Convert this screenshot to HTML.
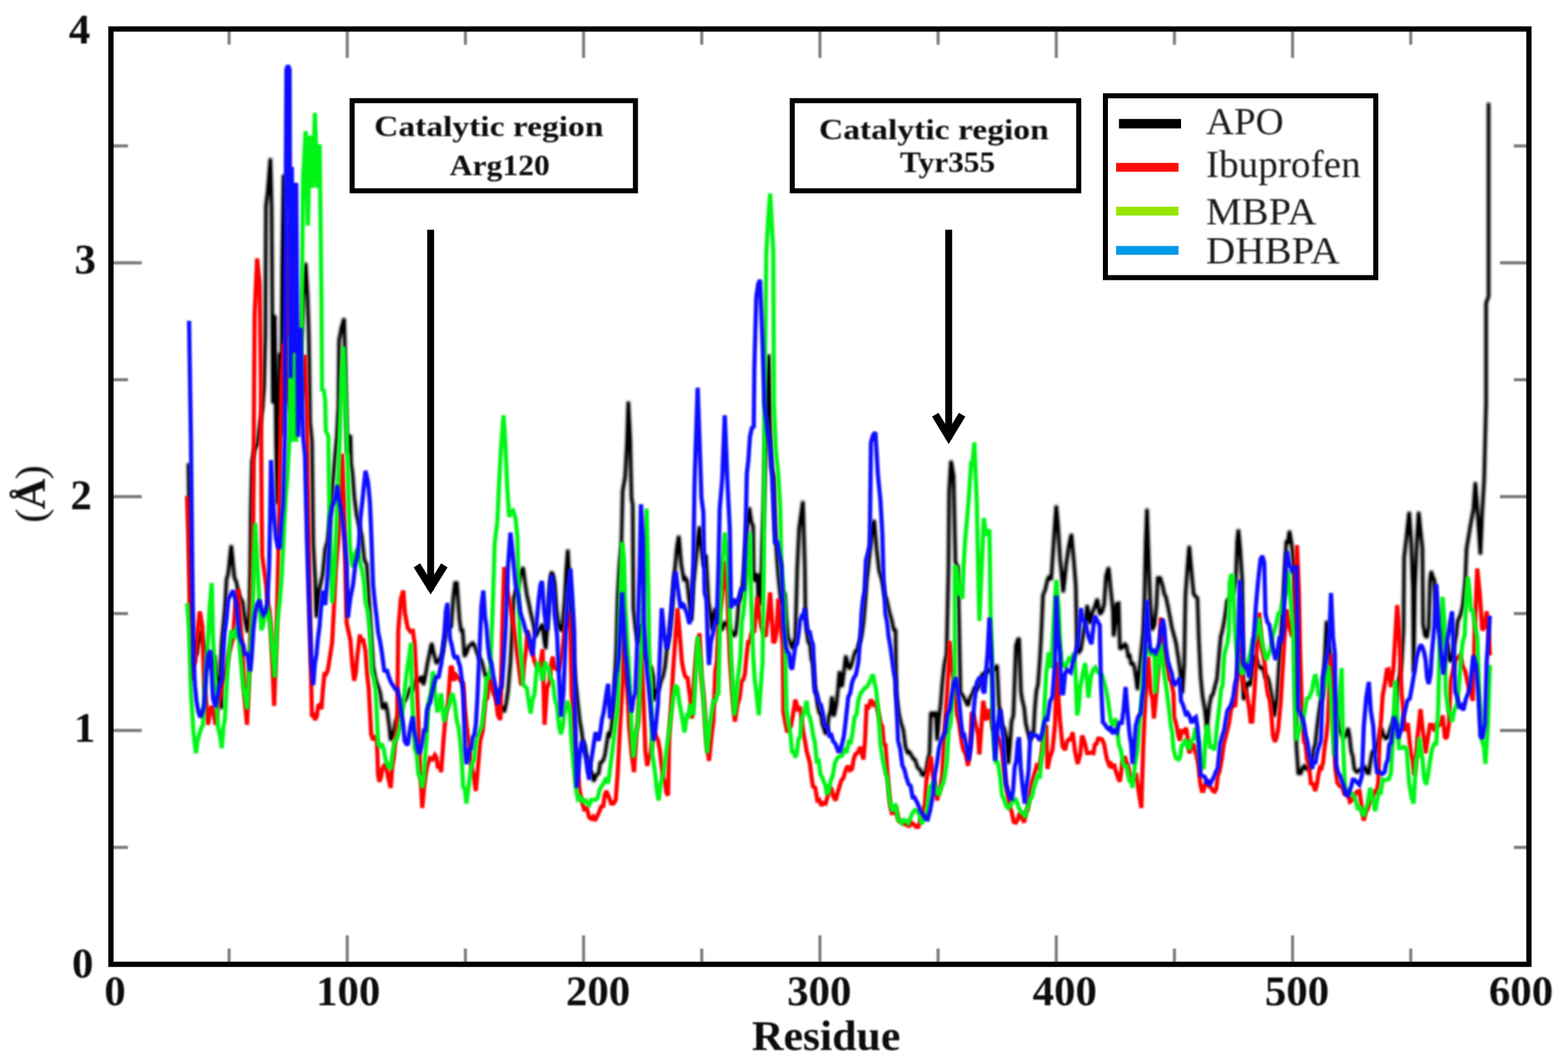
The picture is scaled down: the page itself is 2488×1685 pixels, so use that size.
<!DOCTYPE html>
<html lang="en"><head><meta charset="utf-8"><title>RMSF per residue</title>
<style>html,body{margin:0;padding:0;background:#fff}body{width:2488px;height:1685px;overflow:hidden}svg{display:block}text{font-family:"Liberation Serif","DejaVu Serif",serif;fill:#000}.b{font-weight:bold}.tk{font-size:68px;font-weight:bold;fill:#0c0c0c}.lg{font-size:62px;fill:#1c1c1c}.an{font-size:47px;font-weight:bold;fill:#0c0c0c}.tx{filter:url(#bt)}.s{fill:none;stroke-linejoin:miter;stroke-miterlimit:2;stroke-linecap:butt}</style></head><body>
<svg width="2488" height="1685" viewBox="0 0 2488 1685" role="img" aria-label="RMSF per residue">
<defs><filter id="bl" x="-2%" y="-2%" width="104%" height="104%"><feGaussianBlur stdDeviation="1.6"/></filter><filter id="bk" x="-2%" y="-2%" width="104%" height="104%"><feGaussianBlur stdDeviation="2.0"/><feComponentTransfer><feFuncA type="linear" slope="1.12" intercept="0"/></feComponentTransfer></filter><filter id="bt" x="-2%" y="-2%" width="104%" height="104%"><feGaussianBlur stdDeviation="0.9"/></filter></defs>
<rect width="2488" height="1685" fill="#fff"/>
<path d="M363.5 46.0v25M363.5 1530.0v-25M551.0 46.0v46M551.0 1530.0v-46M738.5 46.0v25M738.5 1530.0v-25M926.0 46.0v46M926.0 1530.0v-46M1113.5 46.0v25M1113.5 1530.0v-25M1301.0 46.0v46M1301.0 1530.0v-46M1488.5 46.0v25M1488.5 1530.0v-25M1676.0 46.0v46M1676.0 1530.0v-46M1863.5 46.0v25M1863.5 1530.0v-25M2051.0 46.0v46M2051.0 1530.0v-46M2238.5 46.0v25M2238.5 1530.0v-25M176.0 1344.5h27M2426.0 1344.5h-24M176.0 1159.0h49M2426.0 1159.0h-46M176.0 973.5h27M2426.0 973.5h-24M176.0 788.0h49M2426.0 788.0h-46M176.0 602.5h27M2426.0 602.5h-24M176.0 417.0h49M2426.0 417.0h-46M176.0 231.5h27M2426.0 231.5h-24" stroke="#7c7c7c" stroke-width="4.8" fill="none" filter="url(#bt)"/>
<path class="s" filter="url(#bk)" d="M299.0 735L301.0 860L303.0 960L306.0 1019L309.0 1018L312.0 1040L315.0 1017L318.0 1000L322.0 1018L326.0 1030L329.5 1047L333.0 1060L336.5 1050L340.0 1040L343.0 1071L346.0 1082L349.0 1112L352.0 1125L350.0 1055L352.0 1019L354.5 992L357.0 964L359.5 919L362.0 911L364.5 887L367.0 865L369.5 892L372.0 917L375.0 923L378.0 939L381.5 949L385.0 955L387.5 976L390.0 990L392.5 1001L395.0 1000L397.0 900L398.0 810L400.0 732L404.0 713L408.0 706L411.0 684L414.0 663L416.5 648L419.0 614L421.0 532L422.0 327L425.0 302L429.0 251L431.0 330L433.0 640L436.0 500L438.0 700L440.0 800L442.0 700L444.0 560L446.0 690L448.0 415L450.0 277L452.0 400L454.0 560L458.0 633L461.0 651L464.0 660L467.0 653L470.0 636L473.0 602L476.0 550L478.5 529L481.0 470L485.0 417L488.0 469L490.0 532L492.0 670L495.0 700L497.0 862L500.0 918L502.0 980L506.0 939L509.0 925L512.0 912L516.0 871L520.0 858L524.0 818L528.0 767L532.0 720L534.5 693L537.0 645L538.0 540L542.0 519L546.0 505L547.0 545L549.0 640L551.0 720L553.5 702L556.0 690L557.0 734L559.5 752L562.0 787L566.0 818L570.0 835L574.0 850L578.0 888L582.0 896L585.0 946L588.0 992L592.0 1057L596.0 1078L600.0 1089L603.5 1100L607.0 1125L609.5 1119L612.0 1117L614.5 1128L617.0 1147L620.0 1175L624.0 1166L628.0 1144L631.0 1139L634.0 1132L637.0 1123L640.0 1111L643.0 1111L646.0 1105L649.0 1096L652.0 1090L655.3 1096L658.7 1082L662.0 1076L664.5 1082L667.0 1075L669.5 1075L672.0 1087L675.0 1072L678.0 1054L681.5 1037L685.0 1020L687.5 1033L690.0 1043L692.5 1053L695.0 1050L698.5 1045L702.0 1037L706.0 1012L710.0 995L713.0 996L716.0 994L719.0 950L722.0 925L725.0 925L729.0 982L731.5 1000L734.0 1000L737.0 1042L740.5 1035L744.0 1025L747.0 1023L750.0 1020L753.0 1024L756.0 1033L760.0 1043L764.0 1048L768.0 1064L771.3 1075L774.7 1071L778.0 1089L781.0 1091L784.0 1100L787.0 1104L790.0 1115L793.3 1121L796.7 1123L800.0 1130L803.0 1117L806.0 1097L810.0 1050L812.5 1004L815.0 950L818.5 936L822.0 930L826.0 908L830.0 900L833.0 924L836.0 944L839.0 957L842.0 972L846.0 988L850.0 1010L853.5 1002L857.0 996L861.0 990L863.5 1015L866.0 1030L870.0 972L872.5 927L875.0 907L877.5 912L880.0 925L883.0 967L886.0 991L889.0 999L892.0 1000L896.0 952L898.5 905L901.0 872L905.0 950L907.5 1001L910.0 1050L912.5 1076L915.0 1098L917.5 1122L920.0 1144L922.5 1158L925.0 1176L927.5 1181L930.0 1196L933.0 1205L936.0 1223L939.0 1226L942.0 1240L946.0 1230L950.0 1227L952.5 1210L955.0 1209L957.5 1206L960.0 1197L962.5 1181L965.0 1165L967.5 1167L970.0 1156L972.5 1133L975.0 1092L978.0 1028L980.0 949L983.0 896L986.0 865L988.0 779L992.0 756L995.0 700L997.0 637L1000.0 700L1002.0 790L1004.0 802L1005.0 965L1008.0 994L1012.0 1020L1015.0 999L1018.0 990L1022.0 1039L1026.0 1048L1030.0 1057L1033.5 1059L1037.0 1076L1038.0 1112L1041.5 1098L1045.0 1094L1048.5 1081L1052.0 1073L1055.0 1059L1058.0 1031L1062.0 1006L1066.0 971L1070.0 913L1074.0 869L1077.0 850L1081.0 896L1085.0 919L1087.5 917L1090.0 921L1094.0 956L1097.0 985L1100.0 927L1104.0 891L1107.0 856L1110.0 835L1113.0 869L1117.0 900L1120.0 880L1124.0 953L1127.0 973L1130.0 1000L1132.5 978L1135.0 965L1137.5 981L1140.0 987L1143.0 994L1146.0 1000L1149.0 988L1152.0 990L1155.0 988L1158.0 1001L1161.5 1003L1165.0 1010L1167.5 1005L1170.0 984L1172.0 956L1175.0 950L1178.0 932L1180.5 907L1183.0 868L1186.0 827L1189.0 805L1192.0 827L1195.0 835L1196.0 922L1199.0 918L1202.0 910L1203.0 950L1207.0 960L1209.5 862L1212.0 800L1216.0 650L1220.0 562L1222.0 672L1224.0 740L1228.0 757L1230.0 838L1232.5 880L1235.0 914L1237.5 938L1240.0 960L1242.5 947L1245.0 940L1247.5 980L1250.0 1009L1254.0 1021L1258.0 1030L1262.0 1010L1265.0 902L1268.0 838L1271.0 817L1274.0 795L1277.0 900L1278.0 976L1280.0 1000L1282.5 1019L1285.0 1020L1287.5 1045L1290.0 1054L1292.5 1088L1295.0 1098L1297.5 1120L1300.0 1131L1302.5 1132L1305.0 1149L1307.5 1156L1310.0 1165L1312.5 1160L1315.0 1136L1317.5 1130L1320.0 1105L1323.0 1137L1327.0 1118L1329.5 1096L1332.0 1065L1336.0 1090L1339.0 1067L1342.0 1040L1345.0 1053L1348.0 1062L1351.5 1054L1355.0 1040L1357.5 1033L1360.0 1033L1362.5 1022L1365.0 1017L1367.5 1006L1370.0 988L1372.5 961L1375.0 922L1377.5 902L1380.0 877L1384.0 834L1387.0 825L1391.0 872L1395.0 906L1399.0 919L1401.5 931L1404.0 945L1406.5 950L1409.0 961L1412.0 974L1415.0 984L1418.0 999L1421.0 1000L1422.0 1100L1426.0 1131L1430.0 1148L1433.3 1158L1436.7 1185L1440.0 1194L1443.0 1193L1446.0 1198L1449.0 1204L1452.0 1205L1456.0 1218L1460.0 1221L1463.0 1229L1466.0 1230L1469.0 1225L1472.0 1207L1475.0 1194L1477.0 1130L1481.0 1134L1485.0 1130L1487.0 1175L1490.0 1138L1492.5 1118L1495.0 1086L1498.5 1054L1502.0 1037L1505.0 900L1506.0 780L1509.0 731L1513.0 755L1516.0 892L1520.0 900L1522.0 1000L1524.0 1100L1527.0 1102L1530.0 1108L1533.0 1114L1536.0 1120L1539.5 1106L1543.0 1101L1546.5 1090L1550.0 1094L1553.0 1089L1556.0 1083L1559.0 1068L1562.0 1071L1565.3 1066L1568.7 1062L1572.0 1066L1575.3 1063L1578.7 1060L1582.0 1055L1585.0 1118L1587.5 1133L1590.0 1151L1593.5 1156L1597.0 1172L1600.0 1212L1602.5 1183L1605.0 1145L1608.0 1135L1612.0 1025L1614.5 1016L1617.0 1012L1620.0 1098L1622.5 1113L1625.0 1122L1627.5 1147L1630.0 1158L1632.5 1167L1635.0 1175L1637.5 1164L1640.0 1162L1642.0 1124L1644.5 1096L1647.0 1086L1650.0 1046L1652.0 1011L1655.0 944L1658.5 936L1662.0 920L1665.0 914L1668.0 920L1672.0 859L1676.0 802L1679.0 837L1682.0 887L1684.5 910L1687.0 940L1689.5 918L1692.0 894L1696.0 866L1700.0 847L1704.0 891L1707.0 930L1709.0 1030L1712.0 1035L1715.0 1031L1718.0 1012L1722.0 988L1725.0 960L1727.5 976L1730.0 990L1734.0 970L1737.0 963L1741.0 950L1745.0 975L1749.0 970L1752.0 959L1755.0 914L1759.0 900L1762.0 931L1766.0 969L1767.0 1010L1770.0 985L1772.0 958L1775.0 957L1777.0 1030L1781.0 1027L1785.0 1022L1787.5 1025L1790.0 1041L1792.5 1040L1795.0 1055L1797.5 1051L1800.0 1059L1802.5 1075L1805.0 1095L1807.5 1068L1810.0 1043L1814.0 1002L1816.0 950L1818.0 860L1820.0 807L1823.0 899L1825.0 952L1828.0 1000L1832.0 991L1835.0 961L1837.0 917L1841.0 917L1845.0 930L1847.5 943L1850.0 947L1854.0 966L1857.0 982L1859.5 996L1862.0 1005L1866.0 1020L1870.0 1046L1873.0 1069L1876.0 1100L1879.0 1055L1881.0 945L1884.0 903L1887.0 866L1890.0 900L1894.0 943L1897.0 946L1900.0 949L1902.0 1009L1905.0 1072L1908.0 1104L1912.0 1127L1915.0 1157L1919.0 1119L1922.0 1104L1924.5 1102L1927.0 1092L1931.0 1077L1935.0 1031L1937.0 1010L1939.5 1001L1942.0 988L1944.5 973L1947.0 953L1950.5 951L1954.0 945L1957.5 937L1961.0 918L1963.0 860L1965.0 840L1968.0 873L1971.0 920L1972.0 1062L1973.0 1110L1975.5 1107L1978.0 1087L1981.0 1082L1984.0 1088L1987.0 1061L1990.0 1040L1993.3 1044L1996.7 1056L2000.0 1060L2004.0 1059L2008.0 1075L2011.0 1074L2014.0 1083L2018.0 1106L2022.0 1137L2026.0 1111L2029.0 1062L2033.0 1005L2037.0 935L2041.0 860L2043.5 860L2046.0 842L2050.0 867L2053.0 900L2055.0 1000L2057.0 1182L2060.0 1227L2064.0 1227L2067.0 1218L2070.0 1215L2073.0 1220L2076.0 1220L2079.0 1215L2082.0 1206L2084.5 1188L2087.0 1181L2089.5 1157L2092.0 1137L2095.5 1113L2099.0 1101L2102.0 1045L2105.0 985L2108.0 1013L2112.0 1052L2115.0 1082L2118.0 1108L2121.5 1118L2125.0 1156L2128.5 1165L2132.0 1170L2135.5 1166L2139.0 1155L2141.5 1169L2144.0 1192L2146.5 1200L2149.0 1220L2151.5 1224L2154.0 1225L2158.0 1221L2162.0 1220L2165.3 1217L2168.7 1226L2172.0 1227L2175.0 1206L2178.0 1191L2181.0 1195L2184.0 1183L2188.0 1173L2192.0 1155L2195.3 1167L2198.7 1172L2202.0 1170L2206.0 1156L2210.0 1146L2214.0 1135L2218.0 1085L2221.0 1073L2224.0 1051L2227.0 1000L2228.0 885L2232.0 850L2236.0 812L2239.0 856L2242.0 935L2243.0 1067L2245.0 935L2248.0 863L2251.0 812L2254.0 842L2257.0 870L2258.0 990L2261.0 1008L2264.0 1012L2267.0 996L2269.0 922L2271.0 906L2273.5 916L2276.0 920L2280.0 986L2283.3 1001L2286.7 998L2290.0 1008L2293.5 1022L2297.0 1023L2299.5 1046L2302.0 1050L2305.0 1041L2308.0 1020L2310.5 1008L2313.0 985L2317.0 977L2321.0 962L2325.0 921L2327.0 871L2330.5 850L2334.0 829L2338.0 808L2341.0 765L2345.0 819L2349.0 880L2352.0 810L2355.0 760L2358.0 640L2358.0 481L2362.0 470L2362.0 163" stroke="#000" stroke-width="5.4"/>
<path class="s" filter="url(#bl)" d="M297.0 787L299.0 850L301.0 950L305.0 1080L307.5 1057L310.0 1049L314.0 995L317.0 970L321.0 993L324.0 1088L327.0 1111L330.0 1150L333.0 1130L336.0 1120L339.0 1131L342.0 1150L346.0 1119L350.0 1104L353.3 1080L356.7 1069L360.0 1055L363.3 1036L366.7 1024L370.0 1011L373.0 963L376.0 941L378.0 935L382.0 995L385.0 1033L388.0 1106L392.0 1150L396.0 1050L399.0 960L401.0 891L402.0 800L403.0 650L404.0 500L408.0 410L412.0 450L414.0 600L415.0 795L416.0 882L420.0 911L422.5 930L425.0 958L427.5 967L430.0 1000L432.5 1060L435.0 1120L439.0 1000L442.0 862L444.0 745L447.0 600L450.0 545L453.0 640L456.0 480L459.0 356L462.0 480L464.0 640L467.0 657L470.0 660L473.5 644L477.0 637L481.0 609L484.0 563L487.0 657L488.0 757L490.0 862L492.0 1000L495.0 1137L497.5 1135L500.0 1142L502.5 1137L505.0 1120L507.5 1118L510.0 1125L512.5 1093L515.0 1067L517.5 1069L520.0 1064L523.5 1042L527.0 1020L530.0 963L533.0 900L537.0 856L540.0 797L543.0 720L546.0 800L548.0 900L550.0 988L553.0 1002L556.0 1016L559.0 1054L562.0 1080L564.5 1068L567.0 1040L571.0 1007L573.5 1019L576.0 1013L580.0 1033L582.5 1070L585.0 1091L589.0 1165L592.0 1174L595.0 1170L598.0 1174L600.0 1230L602.0 1240L604.5 1233L607.0 1219L609.5 1215L612.0 1212L616.0 1234L620.0 1250L622.5 1215L625.0 1201L627.5 1172L630.0 1160L632.0 1000L636.0 950L640.0 937L642.5 973L645.0 986L647.0 996L651.0 1002L655.0 1001L658.0 1021L662.0 1100L666.0 1200L670.0 1282L673.0 1248L676.0 1225L679.0 1212L682.0 1203L686.0 1205L690.0 1198L692.5 1202L695.0 1219L697.5 1214L700.0 1225L704.0 1171L707.0 1136L711.0 1115L715.0 1057L717.5 1060L720.0 1080L723.5 1071L727.0 1075L731.0 1080L735.0 1085L737.5 1123L740.0 1148L744.0 1180L748.0 1216L751.5 1231L755.0 1255L759.0 1210L762.0 1175L766.0 1159L770.0 1112L773.5 1107L777.0 1075L780.5 1087L784.0 1099L787.0 1110L790.0 1135L794.0 1142L797.0 1000L800.0 900L802.5 906L805.0 939L807.5 950L810.0 962L814.0 986L818.0 1016L821.0 1041L824.0 1064L827.0 1087L829.5 1077L832.0 1050L834.5 1033L837.0 1000L841.0 1025L845.0 1037L848.3 1050L851.7 1058L855.0 1060L858.0 1051L861.0 1030L864.0 1150L868.0 1092L872.0 1082L874.5 1054L877.0 1042L880.5 1060L884.0 1062L887.0 1062L890.0 1048L893.0 1026L896.0 998L899.0 988L902.0 970L905.0 1000L907.0 1100L909.5 1131L912.0 1181L916.0 1218L920.0 1256L923.5 1273L927.0 1284L931.0 1282L935.0 1297L938.0 1299L941.0 1296L944.0 1302L948.0 1294L952.0 1285L954.5 1278L957.0 1281L959.5 1262L962.0 1255L966.0 1264L970.0 1275L973.5 1275L977.0 1269L980.0 1228L984.0 1151L988.0 1084L990.0 1002L994.0 1060L998.0 1150L1002.0 1194L1006.0 1225L1010.0 1161L1012.5 1145L1015.0 1091L1018.0 1037L1021.0 1107L1024.0 1190L1027.0 1215L1029.5 1203L1032.0 1199L1035.0 1176L1038.0 1160L1041.0 1168L1044.0 1174L1047.0 1190L1050.0 1217L1052.5 1236L1055.0 1241L1057.5 1258L1060.0 1262L1062.0 1166L1065.0 1117L1068.0 1064L1072.0 1007L1075.0 965L1078.0 999L1082.0 1050L1084.5 1063L1087.0 1073L1091.0 1076L1095.0 1107L1098.0 1140L1102.0 1069L1106.0 1025L1110.0 1005L1113.0 1074L1117.0 1111L1121.0 1175L1125.0 1207L1129.0 1168L1132.0 1144L1135.0 1066L1137.5 1049L1140.0 993L1142.5 970L1145.0 953L1147.5 923L1150.0 890L1154.0 939L1158.0 1044L1162.0 1099L1166.0 1145L1170.0 1119L1173.5 1107L1177.0 1080L1179.5 1078L1182.0 1069L1184.5 1041L1187.0 1019L1189.5 1019L1192.0 1006L1194.5 1001L1197.0 1001L1199.5 968L1202.0 947L1205.0 975L1208.0 995L1211.5 1004L1215.0 1010L1218.5 977L1222.0 940L1224.5 977L1227.0 1020L1229.5 1017L1232.0 1004L1235.0 950L1237.5 971L1240.0 1004L1242.0 1025L1243.0 1130L1246.0 1146L1249.0 1162L1252.0 1154L1255.0 1152L1258.5 1132L1262.0 1110L1266.0 1125L1270.0 1122L1272.5 1147L1275.0 1164L1277.5 1177L1280.0 1192L1282.5 1201L1285.0 1210L1287.5 1232L1290.0 1248L1293.5 1250L1297.0 1270L1300.0 1269L1303.0 1278L1306.5 1274L1310.0 1275L1313.5 1262L1317.0 1250L1319.5 1252L1322.0 1263L1326.0 1270L1329.0 1258L1332.0 1248L1335.0 1238L1338.0 1235L1341.5 1223L1345.0 1215L1348.5 1222L1352.0 1220L1354.5 1205L1357.0 1197L1361.0 1194L1365.0 1185L1367.5 1195L1370.0 1205L1372.5 1176L1375.0 1121L1378.5 1122L1382.0 1110L1386.0 1118L1390.0 1115L1392.5 1127L1395.0 1136L1397.5 1149L1400.0 1152L1402.5 1181L1405.0 1182L1408.5 1232L1412.0 1274L1415.0 1290L1418.0 1290L1421.0 1280L1425.0 1298L1427.5 1303L1430.0 1304L1433.0 1306L1436.0 1308L1439.0 1306L1442.0 1312L1446.0 1305L1450.0 1308L1453.5 1312L1457.0 1312L1461.0 1300L1465.0 1283L1467.5 1277L1470.0 1238L1473.5 1216L1477.0 1200L1480.0 1228L1483.5 1246L1487.0 1270L1489.5 1256L1492.0 1252L1495.0 1229L1497.5 1180L1500.0 1142L1502.5 1104L1505.0 1063L1507.0 1017L1511.0 1062L1515.0 1090L1518.0 1131L1522.0 1148L1524.5 1167L1527.0 1183L1529.5 1192L1532.0 1195L1536.0 1215L1540.0 1178L1542.0 1130L1544.5 1134L1547.0 1144L1549.5 1156L1552.0 1165L1554.0 1197L1557.0 1157L1560.0 1112L1562.5 1125L1565.0 1140L1567.5 1139L1570.0 1125L1572.5 1136L1575.0 1156L1578.5 1161L1582.0 1168L1586.0 1175L1590.0 1192L1593.5 1225L1597.0 1248L1601.0 1278L1605.0 1287L1608.5 1304L1612.0 1305L1615.0 1300L1618.0 1290L1621.5 1297L1625.0 1305L1627.5 1288L1630.0 1286L1633.5 1263L1637.0 1242L1641.0 1229L1645.0 1215L1648.5 1218L1652.0 1203L1654.5 1180L1657.0 1161L1660.0 1150L1662.0 1220L1666.0 1201L1670.0 1190L1674.0 1150L1677.0 1050L1680.0 1115L1682.0 1144L1686.0 1184L1690.0 1190L1693.0 1177L1696.0 1173L1699.0 1173L1702.0 1162L1706.0 1194L1710.0 1212L1714.0 1197L1717.0 1167L1719.5 1173L1722.0 1182L1725.0 1195L1728.0 1195L1731.5 1194L1735.0 1195L1737.5 1181L1740.0 1180L1742.5 1172L1745.0 1172L1748.5 1173L1752.0 1181L1756.0 1203L1760.0 1214L1762.5 1212L1765.0 1219L1767.5 1212L1770.0 1222L1774.0 1234L1777.0 1240L1781.0 1209L1785.0 1200L1787.5 1210L1790.0 1215L1793.5 1233L1797.0 1240L1800.0 1231L1803.0 1230L1807.0 1257L1811.0 1282L1814.0 1185L1816.0 1137L1820.0 1067L1822.0 1042L1826.0 1098L1828.5 1108L1831.0 1140L1835.0 1098L1837.5 1065L1840.0 1033L1842.0 980L1846.0 1026L1850.0 1057L1852.5 1059L1855.0 1077L1858.5 1082L1862.0 1100L1863.0 1137L1867.0 1152L1869.5 1166L1872.0 1175L1875.0 1160L1878.0 1161L1882.0 1155L1884.5 1171L1887.0 1195L1889.5 1189L1892.0 1180L1894.5 1183L1897.0 1193L1899.5 1203L1902.0 1218L1904.5 1243L1907.0 1255L1909.5 1255L1912.0 1245L1915.0 1241L1918.0 1247L1921.5 1250L1925.0 1255L1927.5 1256L1930.0 1251L1932.5 1230L1935.0 1224L1938.5 1205L1942.0 1180L1946.0 1164L1950.0 1148L1953.3 1126L1956.7 1118L1960.0 1121L1962.5 1085L1965.0 1056L1967.0 1025L1969.5 1062L1972.0 1079L1975.0 1095L1978.0 1100L1982.0 1123L1984.5 1145L1987.0 1145L1991.0 1090L1995.0 1012L1998.0 972L2002.0 1029L2004.5 1039L2007.0 1056L2009.5 1087L2012.0 1103L2014.5 1109L2017.0 1130L2020.0 1168L2023.0 1177L2025.5 1170L2028.0 1158L2032.0 1115L2036.0 1049L2039.0 997L2042.0 967L2046.0 995L2050.0 1010L2054.0 960L2058.0 865L2061.0 940L2063.0 1040L2066.0 1130L2069.0 1176L2071.5 1181L2074.0 1205L2077.0 1215L2080.0 1243L2083.5 1244L2087.0 1255L2089.5 1245L2092.0 1229L2094.5 1218L2097.0 1219L2099.5 1209L2102.0 1184L2104.5 1169L2107.0 1144L2110.0 1077L2112.0 1037L2115.0 1100L2119.0 1220L2122.0 1242L2126.0 1247L2130.0 1249L2133.0 1259L2136.0 1259L2139.0 1262L2142.0 1272L2146.0 1269L2150.0 1260L2153.5 1256L2157.0 1255L2160.5 1279L2164.0 1302L2167.0 1288L2170.0 1284L2174.0 1271L2178.0 1267L2181.0 1256L2184.0 1257L2187.0 1242L2189.0 1168L2191.5 1141L2194.0 1103L2198.0 1082L2200.5 1063L2203.0 1062L2207.0 1090L2211.0 1061L2214.0 1009L2217.0 960L2220.0 1000L2224.0 1100L2226.5 1125L2229.0 1160L2231.5 1150L2234.0 1150L2236.5 1175L2239.0 1197L2241.5 1207L2244.0 1230L2246.5 1209L2249.0 1170L2251.5 1148L2254.0 1125L2258.0 1163L2262.0 1195L2266.0 1168L2269.0 1150L2272.5 1150L2276.0 1160L2279.5 1150L2283.0 1151L2286.0 1148L2289.0 1135L2293.0 1172L2296.0 1169L2299.0 1149L2302.0 1079L2306.0 1062L2310.0 1045L2313.5 1043L2317.0 1040L2321.0 1057L2325.0 1065L2328.5 1082L2332.0 1097L2334.5 1101L2337.0 1112L2340.0 1000L2344.0 902L2348.0 942L2352.0 1000L2356.0 994L2359.0 970L2362.0 1001L2364.0 1040" stroke="#ff0606" stroke-width="6.7"/>
<path class="s" filter="url(#bl)" d="M297.0 957L300.0 1000L303.0 1100L307.0 1162L311.0 1195L313.5 1175L316.0 1166L319.0 1156L322.0 1150L325.0 1091L328.0 1050L330.5 1006L333.0 960L336.0 925L338.0 1012L342.0 1089L346.0 1154L349.0 1166L352.0 1187L354.5 1154L357.0 1140L359.5 1089L362.0 1050L364.5 1022L367.0 1000L369.5 1008L372.0 1010L375.0 998L378.0 1000L382.0 1047L386.0 1091L389.0 1106L392.0 1125L394.5 1086L397.0 1030L401.0 970L403.0 880L405.0 830L408.0 886L412.0 964L415.0 1000L419.0 985L421.5 970L424.0 960L428.0 983L432.0 1029L436.0 1075L440.0 989L444.0 952L447.0 915L450.0 854L453.0 794L456.0 757L459.0 701L461.0 532L464.0 701L467.0 560L470.0 701L473.0 600L477.0 640L479.0 465L481.0 283L485.0 208L488.5 358L492.0 215L496.0 298L499.7 179L503.5 298L507.2 229L510.0 470L511.0 620L513.5 618L516.0 635L517.0 684L521.0 692L522.0 770L524.0 860L527.0 957L531.0 900L535.0 800L539.0 700L542.0 600L545.0 550L549.0 650L552.0 745L555.0 862L557.5 890L560.0 900L564.0 878L568.0 870L571.5 893L575.0 907L577.5 923L580.0 956L583.5 969L587.0 1002L590.0 1066L593.0 1076L596.0 1094L600.0 1180L603.0 1184L606.0 1180L609.0 1189L612.0 1206L616.0 1216L620.0 1220L623.0 1194L626.0 1178L630.0 1171L634.0 1156L637.0 1138L640.0 1117L643.0 1087L646.0 1062L649.0 1043L652.0 1020L654.0 1107L658.0 1188L661.0 1196L664.0 1229L667.0 1233L670.0 1250L672.5 1234L675.0 1196L677.5 1162L680.0 1113L683.5 1101L687.0 1065L690.0 1098L694.0 1130L697.0 1119L700.0 1100L702.5 1128L705.0 1145L708.5 1127L712.0 1121L715.0 1107L718.0 1100L721.5 1116L725.0 1145L727.5 1153L730.0 1174L732.5 1204L735.0 1249L737.5 1251L740.0 1275L743.0 1252L746.0 1229L749.0 1211L752.0 1207L755.0 1180L758.0 1166L761.5 1159L765.0 1149L768.5 1121L772.0 1073L775.0 1078L778.0 1060L782.0 960L785.0 862L787.0 844L789.0 831L792.0 765L795.0 711L799.0 659L802.0 707L805.0 776L808.0 820L811.0 812L814.0 810L818.0 822L821.0 853L823.0 939L825.0 1022L827.5 1047L830.0 1086L833.0 1089L836.0 1092L839.0 1114L842.0 1132L845.0 1110L848.0 1102L850.5 1073L853.0 1050L855.5 1060L858.0 1063L861.0 1080L865.0 1050L867.5 1060L870.0 1057L873.5 1076L877.0 1081L880.5 1109L884.0 1122L887.0 1152L890.0 1165L892.5 1155L895.0 1134L897.5 1124L900.0 1112L904.0 1125L907.0 1176L909.5 1209L912.0 1235L914.5 1255L917.0 1268L921.0 1265L925.0 1274L928.3 1268L931.7 1274L935.0 1277L938.3 1269L941.7 1269L945.0 1269L948.3 1266L951.7 1252L955.0 1247L958.3 1242L961.7 1234L965.0 1243L968.5 1216L972.0 1189L976.0 1154L980.0 1125L983.0 1000L987.0 860L990.0 885L992.0 960L996.0 1030L1000.0 1096L1002.0 1151L1005.0 1202L1009.0 1163L1011.5 1154L1014.0 1120L1016.5 1049L1019.0 1000L1023.0 880L1026.0 807L1028.0 900L1030.0 1025L1033.0 1101L1035.0 1198L1037.5 1212L1040.0 1231L1042.5 1256L1045.0 1270L1047.5 1250L1050.0 1237L1053.5 1222L1057.0 1194L1061.0 1165L1065.0 1134L1069.0 1102L1072.0 1087L1075.0 1092L1078.0 1115L1082.0 1136L1086.0 1162L1090.0 1135L1092.5 1136L1095.0 1120L1097.5 1121L1100.0 1135L1104.0 1070L1107.0 1010L1111.0 1044L1115.0 1093L1118.0 1134L1122.0 1195L1126.0 1150L1130.0 1124L1132.5 1110L1135.0 1114L1137.5 1103L1140.0 1100L1142.0 1000L1145.0 900L1147.5 877L1150.0 845L1154.0 879L1157.0 950L1160.0 1040L1162.0 1080L1165.0 1135L1167.5 1120L1170.0 1082L1172.5 1063L1175.0 1039L1177.0 987L1179.5 973L1182.0 946L1186.0 895L1190.0 845L1192.0 950L1195.0 1040L1197.5 1078L1200.0 1098L1204.0 1135L1207.0 1091L1210.0 1050L1212.0 885L1213.0 640L1216.0 400L1219.0 348L1222.0 307L1224.5 352L1227.0 400L1228.0 640L1231.0 713L1235.0 753L1238.0 805L1240.0 905L1242.5 929L1245.0 955L1246.0 1031L1248.0 1126L1252.0 1153L1254.5 1167L1257.0 1195L1259.5 1191L1262.0 1202L1264.5 1194L1267.0 1172L1269.5 1170L1272.0 1141L1276.0 1129L1280.0 1112L1282.5 1133L1285.0 1138L1287.5 1149L1290.0 1165L1293.0 1178L1296.0 1208L1299.0 1207L1302.0 1229L1304.5 1233L1307.0 1240L1309.5 1245L1312.0 1260L1315.0 1256L1318.0 1239L1321.5 1230L1325.0 1210L1328.5 1203L1332.0 1200L1336.0 1199L1340.0 1190L1343.3 1194L1346.7 1177L1350.0 1178L1353.0 1161L1356.0 1137L1359.0 1134L1362.0 1111L1365.3 1101L1368.7 1096L1372.0 1092L1375.0 1090L1378.0 1086L1381.5 1078L1385.0 1070L1387.5 1083L1390.0 1093L1394.0 1131L1397.0 1181L1401.0 1207L1405.0 1227L1408.0 1235L1411.0 1265L1414.0 1281L1417.0 1287L1421.0 1275L1425.0 1301L1428.0 1302L1431.0 1306L1434.0 1301L1437.0 1302L1441.0 1306L1445.0 1297L1448.5 1289L1452.0 1285L1455.3 1286L1458.7 1292L1462.0 1307L1466.0 1301L1470.0 1294L1472.5 1272L1475.0 1249L1478.5 1246L1482.0 1240L1486.0 1256L1490.0 1262L1493.5 1248L1497.0 1242L1500.0 1226L1502.5 1208L1505.0 1161L1508.5 1147L1512.0 1101L1515.0 1062L1515.0 900L1517.0 897L1519.5 914L1522.0 941L1524.5 940L1527.0 950L1529.0 897L1531.5 856L1534.0 829L1537.0 793L1541.0 734L1543.5 731L1546.0 702L1550.0 800L1552.0 900L1554.0 985L1557.0 916L1561.0 822L1565.0 850L1567.5 846L1570.0 840L1572.0 980L1574.0 1045L1575.0 1150L1577.5 1179L1580.0 1209L1583.5 1210L1587.0 1233L1590.0 1262L1593.3 1269L1596.7 1279L1600.0 1282L1604.0 1277L1608.0 1270L1611.0 1268L1614.0 1273L1617.0 1283L1620.3 1288L1623.7 1291L1627.0 1297L1629.5 1283L1632.0 1278L1634.5 1267L1637.0 1266L1640.0 1252L1643.0 1243L1646.5 1231L1650.0 1232L1652.5 1198L1655.0 1195L1657.0 1126L1660.0 1070L1664.0 1035L1668.0 1060L1672.0 984L1676.0 920L1680.0 968L1682.5 1028L1685.0 1058L1687.5 1052L1690.0 1060L1692.5 1054L1695.0 1047L1697.5 1042L1700.0 1050L1702.5 1040L1705.0 1042L1707.0 1078L1709.0 1135L1711.5 1124L1714.0 1090L1718.0 1070L1722.0 1052L1724.5 1076L1727.0 1107L1731.0 1073L1735.0 1062L1738.3 1059L1741.7 1066L1745.0 1068L1748.5 1071L1752.0 1083L1756.0 1099L1760.0 1124L1762.5 1144L1765.0 1150L1767.5 1149L1770.0 1140L1772.5 1152L1775.0 1180L1778.5 1190L1782.0 1211L1784.5 1217L1787.0 1213L1789.5 1227L1792.0 1238L1794.5 1237L1797.0 1250L1801.0 1212L1805.0 1189L1807.5 1151L1810.0 1130L1812.5 1097L1815.0 1050L1817.5 1037L1820.0 1029L1822.0 1025L1826.0 1040L1829.0 1037L1832.0 1037L1833.0 1100L1835.5 1072L1838.0 1054L1842.0 1020L1844.5 1044L1847.0 1067L1851.0 1094L1855.0 1126L1857.5 1149L1860.0 1162L1862.0 1189L1866.0 1203L1870.0 1205L1872.5 1202L1875.0 1184L1877.5 1181L1880.0 1175L1882.5 1176L1885.0 1185L1887.5 1189L1890.0 1176L1893.5 1173L1897.0 1155L1899.5 1168L1902.0 1177L1905.0 1215L1907.5 1213L1910.0 1220L1912.5 1174L1915.0 1150L1917.5 1158L1920.0 1185L1923.5 1185L1927.0 1190L1929.5 1169L1932.0 1144L1935.0 1119L1937.5 1094L1940.0 1087L1942.5 1040L1945.0 1029L1947.5 1021L1950.0 1002L1951.0 925L1953.5 911L1956.0 915L1960.0 1007L1962.5 1035L1965.0 1049L1968.5 1065L1972.0 1070L1976.0 1053L1980.0 1050L1984.0 1037L1988.0 1015L1990.5 1015L1993.0 1007L1997.0 980L1999.5 997L2002.0 1016L2005.5 1032L2009.0 1047L2012.5 1040L2016.0 1030L2019.0 1010L2022.0 1000L2025.5 988L2029.0 971L2031.5 975L2034.0 960L2037.0 951L2040.0 941L2044.0 905L2048.0 954L2052.0 1000L2054.0 1100L2057.0 1175L2059.5 1164L2062.0 1158L2066.0 1145L2070.0 1130L2073.5 1109L2077.0 1107L2079.5 1101L2082.0 1095L2084.5 1080L2087.0 1070L2089.5 1079L2092.0 1102L2094.5 1102L2097.0 1110L2099.5 1095L2102.0 1088L2105.0 1061L2108.0 1057L2112.0 1100L2114.5 1160L2117.0 1200L2119.5 1181L2122.0 1143L2126.0 1098L2129.0 1060L2131.0 1175L2134.0 1248L2137.0 1255L2140.0 1255L2143.5 1258L2147.0 1261L2151.0 1269L2155.0 1285L2158.0 1279L2161.0 1289L2164.0 1295L2167.0 1284L2170.0 1275L2174.0 1250L2178.0 1267L2182.0 1287L2185.0 1271L2188.0 1256L2191.0 1257L2194.0 1237L2197.0 1238L2200.3 1237L2203.7 1236L2207.0 1227L2210.0 1176L2212.0 1127L2214.0 1080L2217.0 1139L2220.0 1187L2224.0 1187L2228.0 1185L2232.0 1188L2236.0 1243L2240.0 1266L2243.0 1275L2247.0 1205L2249.5 1200L2252.0 1170L2254.5 1188L2257.0 1204L2260.0 1236L2263.0 1245L2266.0 1229L2269.0 1208L2272.3 1189L2275.7 1180L2279.0 1180L2282.0 1125L2285.0 1000L2289.0 947L2292.0 988L2294.0 1098L2298.0 1127L2301.0 1134L2304.0 1145L2308.0 1125L2312.0 1117L2315.0 1088L2318.0 1045L2321.0 1018L2324.0 1008L2326.5 951L2329.0 915L2331.5 935L2334.0 968L2337.0 969L2340.0 992L2344.0 1010L2347.0 1100L2349.5 1136L2352.0 1177L2354.5 1184L2357.0 1212L2361.0 1150L2364.0 1055" stroke="#00f416" stroke-width="6.7"/>
<path class="s" filter="url(#bl)" d="M300.0 509L303.0 700L305.0 900L307.0 1050L309.5 1090L312.0 1114L315.0 1130L318.0 1138L321.0 1130L324.0 1120L327.0 1069L330.0 1040L334.0 1032L338.0 1108L342.0 1122L345.0 1106L348.0 1089L352.0 1079L356.0 1005L359.0 985L362.0 952L366.0 943L370.0 937L372.5 947L375.0 958L377.5 987L380.0 1009L383.0 1018L386.0 1024L389.0 1040L392.0 1035L394.5 1050L397.0 1065L399.5 1040L402.0 998L405.0 973L408.0 959L412.0 952L415.0 968L418.0 975L421.0 971L424.0 958L427.0 900L429.0 800L430.0 730L433.0 789L435.5 826L438.0 854L441.0 868L444.0 870L446.5 827L449.0 800L452.0 695L453.0 400L454.5 110L457.0 104L459.5 110L461.0 600L463.0 265L466.0 560L470.0 290L473.0 693L477.0 520L481.0 693L484.0 723L485.0 770L487.0 853L490.0 950L494.0 1050L497.0 1087L499.5 1054L502.0 1039L504.5 1013L507.0 994L509.5 963L512.0 937L516.0 960L520.0 912L524.0 821L527.0 803L530.0 797L532.5 787L535.0 770L537.5 788L540.0 802L543.0 821L546.0 849L550.0 895L552.0 980L556.0 948L560.0 929L564.0 894L567.0 884L569.5 862L572.0 821L575.0 795L577.5 770L580.0 747L584.0 765L587.0 798L589.0 845L592.0 928L595.0 958L597.5 978L600.0 1003L603.0 1017L606.0 1036L610.0 1066L613.5 1062L617.0 1074L620.5 1083L624.0 1088L627.0 1093L630.0 1093L633.5 1107L637.0 1133L639.5 1146L642.0 1175L644.5 1180L647.0 1182L651.0 1154L655.0 1137L657.5 1161L660.0 1171L662.5 1188L665.0 1196L667.5 1189L670.0 1177L672.5 1159L675.0 1159L677.5 1127L680.0 1118L682.5 1115L685.0 1101L688.5 1086L692.0 1074L696.0 1074L700.0 1054L702.5 1031L705.0 1009L707.5 970L710.0 957L714.0 1013L717.0 1024L720.0 1040L722.5 1045L725.0 1040L727.5 1050L730.0 1057L732.5 1076L735.0 1100L738.0 1190L740.0 1212L742.5 1205L745.0 1189L747.5 1188L750.0 1170L752.5 1166L755.0 1150L757.5 1108L760.0 1050L764.0 960L767.0 937L769.5 978L772.0 995L774.5 1027L777.0 1045L780.0 1053L783.0 1074L786.5 1091L790.0 1118L793.0 1096L796.0 1089L799.0 1050L802.0 1000L806.0 900L810.0 845L814.0 883L818.0 928L822.0 944L826.0 973L830.0 985L834.0 1000L838.0 1007L841.5 1021L845.0 1040L847.5 1014L850.0 1000L852.5 976L855.0 949L857.5 929L860.0 922L864.0 974L868.0 1000L872.0 942L875.0 912L877.5 932L880.0 974L884.0 1009L886.0 1053L890.0 1137L894.0 1100L898.0 1000L902.0 929L905.0 902L908.0 947L911.0 1000L912.0 1100L914.0 1200L915.0 1250L917.5 1229L920.0 1196L922.5 1180L925.0 1175L927.5 1192L930.0 1204L932.5 1224L935.0 1237L937.5 1210L940.0 1195L942.5 1178L945.0 1162L947.5 1168L950.0 1175L952.5 1162L955.0 1142L957.5 1132L960.0 1116L962.5 1099L965.0 1085L968.0 1140L972.0 1119L974.5 1099L977.0 1071L979.5 1060L982.0 1040L984.5 988L987.0 940L989.5 985L992.0 1031L994.5 1056L997.0 1088L999.5 1111L1002.0 1130L1005.0 1109L1008.0 1100L1012.0 1000L1015.0 900L1017.0 800L1020.0 850L1022.0 990L1026.0 1060L1030.0 1097L1034.0 1142L1037.0 1175L1040.0 1157L1044.0 1117L1047.0 1040L1050.0 965L1054.0 1006L1058.0 1030L1062.0 1008L1066.0 959L1070.0 914L1072.0 907L1076.0 937L1080.0 965L1082.5 958L1085.0 960L1087.5 967L1090.0 973L1094.0 990L1097.0 969L1100.0 900L1102.0 770L1104.0 707L1107.0 615L1110.0 700L1113.0 790L1116.0 812L1118.0 940L1121.0 952L1123.0 1018L1125.0 1055L1128.0 1018L1132.0 1002L1134.5 988L1137.0 990L1140.0 900L1142.0 807L1146.0 760L1150.0 659L1154.0 760L1158.0 840L1160.0 965L1164.0 950L1168.0 960L1172.0 950L1176.0 935L1180.0 935L1183.0 850L1185.0 752L1187.5 730L1190.0 693L1193.0 679L1196.0 677L1197.0 582L1200.0 472L1203.0 451L1206.0 444L1210.0 545L1213.0 642L1215.5 662L1218.0 684L1221.0 701L1224.0 733L1227.0 795L1230.0 863L1233.0 858L1236.0 876L1240.0 897L1243.0 990L1247.0 1027L1249.5 1034L1252.0 1037L1254.5 1058L1257.0 1062L1259.5 1043L1262.0 1024L1264.5 1022L1267.0 1007L1269.5 984L1272.0 978L1274.5 980L1277.0 965L1279.5 988L1282.0 1005L1284.5 1001L1287.0 1014L1290.0 1023L1293.0 1097L1296.5 1103L1300.0 1116L1302.5 1118L1305.0 1129L1307.5 1143L1310.0 1153L1313.0 1154L1316.0 1167L1319.0 1166L1322.0 1176L1326.0 1181L1330.0 1192L1333.0 1192L1336.0 1181L1339.0 1168L1342.0 1143L1346.0 1106L1349.0 1100L1352.0 1083L1355.0 1075L1358.0 1071L1362.0 1051L1366.0 994L1367.0 973L1369.5 950L1372.0 937L1374.0 889L1377.0 878L1380.0 865L1382.0 702L1385.5 690L1389.0 686L1393.0 753L1397.0 794L1400.0 846L1402.0 919L1405.0 975L1407.5 987L1410.0 1010L1412.5 1024L1415.0 1042L1418.0 1065L1421.0 1080L1425.0 1175L1428.3 1188L1431.7 1214L1435.0 1221L1438.3 1234L1441.7 1244L1445.0 1247L1448.0 1265L1451.0 1265L1454.0 1271L1457.0 1277L1461.0 1288L1465.0 1292L1468.5 1299L1472.0 1300L1476.0 1285L1480.0 1263L1483.3 1229L1486.7 1211L1490.0 1187L1493.3 1174L1496.7 1168L1500.0 1161L1503.3 1134L1506.7 1126L1510.0 1104L1513.5 1084L1517.0 1075L1521.0 1103L1525.0 1147L1527.5 1167L1530.0 1166L1533.5 1184L1537.0 1207L1540.0 1187L1543.0 1151L1546.5 1110L1550.0 1083L1553.5 1076L1557.0 1075L1559.5 1095L1562.0 1100L1564.5 1066L1567.0 1038L1570.0 980L1573.0 1040L1575.0 1088L1576.0 1142L1579.0 1207L1583.0 1151L1587.0 1125L1589.5 1149L1592.0 1174L1596.0 1244L1600.0 1257L1602.5 1265L1605.0 1270L1607.5 1254L1610.0 1217L1612.5 1208L1615.0 1177L1617.0 1170L1619.5 1217L1622.0 1242L1626.0 1275L1629.0 1248L1632.0 1224L1635.0 1162L1638.5 1168L1642.0 1166L1646.0 1168L1650.0 1175L1653.5 1164L1657.0 1146L1659.5 1140L1662.0 1141L1666.0 1113L1670.0 1106L1674.0 1050L1676.0 945L1679.0 1008L1682.0 1034L1684.0 1100L1687.0 1100L1690.0 1069L1693.0 1063L1696.0 1065L1699.0 1067L1702.0 1052L1704.5 1044L1707.0 1034L1709.5 1026L1712.0 1004L1715.0 965L1718.0 982L1722.0 987L1724.5 999L1727.0 1009L1729.5 1016L1732.0 1022L1735.0 994L1737.0 977L1741.0 985L1745.0 992L1747.0 1087L1750.0 1146L1753.0 1149L1756.0 1154L1759.0 1157L1762.0 1153L1765.3 1164L1768.7 1159L1772.0 1162L1776.0 1147L1780.0 1147L1783.0 1125L1786.0 1090L1790.0 1140L1792.5 1166L1795.0 1182L1797.0 1212L1799.5 1190L1802.0 1152L1806.0 1137L1810.0 1132L1812.5 1107L1815.0 1089L1818.0 988L1820.0 952L1823.0 1005L1825.0 1028L1827.5 1033L1830.0 1032L1833.5 1036L1837.0 1028L1839.5 1020L1842.0 998L1845.0 982L1847.5 996L1850.0 1028L1853.5 1050L1857.0 1062L1859.5 1069L1862.0 1085L1864.5 1086L1867.0 1082L1869.5 1082L1872.0 1075L1874.0 1112L1877.0 1118L1880.0 1128L1882.5 1136L1885.0 1132L1887.5 1136L1890.0 1145L1892.5 1145L1895.0 1140L1897.5 1138L1900.0 1153L1902.0 1177L1905.0 1230L1908.5 1231L1912.0 1233L1914.5 1241L1917.0 1240L1919.5 1246L1922.0 1240L1924.5 1236L1927.0 1231L1929.5 1224L1932.0 1220L1936.0 1180L1940.0 1166L1942.5 1158L1945.0 1142L1947.5 1128L1950.0 1124L1953.5 1118L1957.0 1105L1959.5 1086L1962.0 1076L1965.0 1006L1967.0 920L1970.0 964L1972.0 1021L1973.0 1053L1975.5 1058L1978.0 1056L1982.0 1075L1986.0 1047L1990.0 1002L1993.0 959L1996.0 925L2000.0 888L2003.0 882L2006.0 893L2008.0 974L2011.0 987L2014.0 991L2018.0 1017L2021.0 1034L2024.0 1047L2027.0 1036L2030.0 1014L2033.0 1016L2036.0 1000L2040.0 900L2042.0 875L2046.0 896L2050.0 905L2054.0 900L2057.0 900L2059.0 1000L2060.0 1125L2063.5 1133L2067.0 1141L2069.5 1151L2072.0 1167L2074.5 1177L2077.0 1195L2079.5 1205L2082.0 1220L2084.5 1206L2087.0 1212L2089.5 1196L2092.0 1187L2096.0 1175L2099.0 1075L2103.0 1055L2107.0 1032L2110.0 992L2112.0 941L2115.0 1010L2118.0 1037L2120.0 1212L2123.0 1226L2126.0 1230L2129.0 1239L2132.0 1246L2135.5 1261L2139.0 1262L2141.5 1254L2144.0 1248L2146.5 1237L2149.0 1237L2153.0 1241L2157.0 1245L2161.0 1231L2164.0 1152L2168.0 1106L2172.0 1082L2175.0 1127L2179.0 1152L2182.0 1203L2185.0 1225L2189.0 1225L2193.0 1228L2197.0 1225L2199.5 1211L2202.0 1206L2204.5 1181L2207.0 1179L2209.5 1158L2212.0 1137L2216.0 1149L2219.0 1172L2221.5 1162L2224.0 1158L2226.5 1138L2229.0 1130L2233.0 1112L2237.0 1108L2240.5 1089L2244.0 1068L2248.0 1042L2252.0 1028L2254.5 1023L2257.0 1027L2259.5 1034L2262.0 1047L2264.5 1076L2267.0 1085L2270.0 1069L2272.0 1037L2276.0 992L2279.0 927L2283.0 995L2287.0 1042L2290.0 1070L2294.0 1040L2297.0 1013L2301.0 987L2304.0 970L2307.0 1036L2309.0 1097L2312.5 1107L2316.0 1124L2319.0 1120L2322.0 1127L2326.0 1109L2330.0 1099L2332.5 1089L2335.0 1066L2338.0 1040L2342.0 1055L2346.0 1105L2349.0 1168L2352.0 1172L2356.0 1150L2359.0 1050L2362.0 1007L2364.0 977" stroke="#0a0aff" stroke-width="6.7"/>
<rect x="176.0" y="46.0" width="2250.0" height="1484.0" fill="none" stroke="#000" stroke-width="8.4"/>
<rect x="558.7" y="159.7" width="449.6" height="143" fill="#fff" stroke="#000" stroke-width="8"/>
<rect x="1257.1" y="159.7" width="454.5" height="143" fill="#fff" stroke="#000" stroke-width="8"/>
<g class="tx">
<text class="an" x="593.8" y="216" textLength="363.7" lengthAdjust="spacingAndGlyphs">Catalytic region</text>
<text class="an" x="713.6" y="277.5" textLength="158.8" lengthAdjust="spacingAndGlyphs">Arg120</text>
<text class="an" x="1299.4" y="220.5" textLength="364.8" lengthAdjust="spacingAndGlyphs">Catalytic region</text>
<text class="an" x="1428.1" y="273" textLength="151" lengthAdjust="spacingAndGlyphs">Tyr355</text>
</g>
<g fill="none" stroke="#000" stroke-width="11">
<path d="M683.3 364.5V936"/><path d="M661.5 897L683.3 932L705.1 897" stroke-width="12" stroke-linejoin="miter"/>
<path d="M1505.3 364.5V697"/><path d="M1484 658L1505.3 693L1526.6 658" stroke-width="12" stroke-linejoin="miter"/>
</g>
<rect x="1754" y="152" width="429" height="288.5" fill="#fff" stroke="#000" stroke-width="8"/>
<path d="M1775.5 196.3H1874" stroke="#000" stroke-width="15"/>
<path d="M1771 265.6H1870" stroke="#ff0a0a" stroke-width="14"/>
<path d="M1771 335H1870" stroke="#96e600" stroke-width="14"/>
<path d="M1771 397.2H1870" stroke="#009ae6" stroke-width="14"/>
<g class="tx">
<text class="lg" x="1913.4" y="213.4" textLength="123.5" lengthAdjust="spacingAndGlyphs">APO</text>
<text class="lg" x="1913.4" y="281.2" textLength="245.7" lengthAdjust="spacingAndGlyphs">Ibuprofen</text>
<text class="lg" x="1913.4" y="355.7" textLength="175.5" lengthAdjust="spacingAndGlyphs">MBPA</text>
<text class="lg" x="1913.4" y="417.9" textLength="212.5" lengthAdjust="spacingAndGlyphs">DHBPA</text>
<text class="tk" text-anchor="middle" x="126.2" y="68.8">4</text>
<text class="tk" text-anchor="middle" x="135.2" y="434.4">3</text>
<text class="tk" text-anchor="middle" x="128.7" y="807.6">2</text>
<text class="tk" text-anchor="middle" x="134.2" y="1176.7">1</text>
<text class="tk" text-anchor="middle" x="131.2" y="1550.5">0</text>
<text class="tk" text-anchor="middle" x="182.6" y="1595.3">0</text>
<text class="tk" text-anchor="middle" x="552.5" y="1595.3">100</text>
<text class="tk" text-anchor="middle" x="949.0" y="1595.3">200</text>
<text class="tk" text-anchor="middle" x="1300.1" y="1595.3">300</text>
<text class="tk" text-anchor="middle" x="1689.6" y="1595.3">400</text>
<text class="tk" text-anchor="middle" x="2058.0" y="1595.3">500</text>
<text class="tk" text-anchor="middle" x="2413.5" y="1595.3">600</text>
<text class="tk" x="1192.9" y="1665.8" textLength="235.8" lengthAdjust="spacingAndGlyphs">Residue</text>
<text class="tk" id="yl" text-anchor="middle" transform="translate(71 784.5) rotate(-90)" style="font-weight:normal;letter-spacing:-1.5px">(<tspan class="b">Å</tspan>)</text>
</g>
</svg></body></html>
